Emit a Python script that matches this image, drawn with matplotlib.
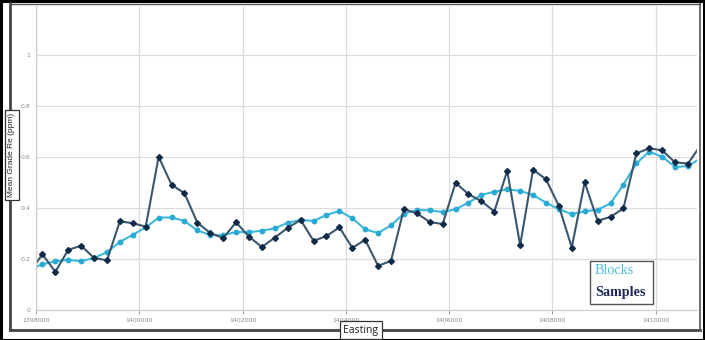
import matplotlib
matplotlib.use("Agg")
import matplotlib.pyplot as plt
from matplotlib.patches import Rectangle

# ---- data ----
start_easting = 1397875
step = 250
samples = [0.150, 0.218, 0.150, 0.236, 0.252, 0.204, 0.195, 0.348, 0.340, 0.327,
           0.601, 0.491, 0.458, 0.342, 0.302, 0.282, 0.344, 0.287, 0.247, 0.284,
           0.322, 0.353, 0.271, 0.290, 0.324, 0.244, 0.275, 0.173, 0.193, 0.396,
           0.379, 0.345, 0.337, 0.499, 0.454, 0.427, 0.386, 0.546, 0.254, 0.550,
           0.513, 0.408, 0.245, 0.501, 0.350, 0.365, 0.398, 0.614, 0.634, 0.626,
           0.579, 0.574, 0.647]
blocks = [0.161, 0.179, 0.191, 0.197, 0.191, 0.204, 0.227, 0.267, 0.295, 0.324,
          0.362, 0.363, 0.349, 0.312, 0.294, 0.293, 0.306, 0.305, 0.311, 0.320,
          0.342, 0.353, 0.349, 0.373, 0.388, 0.360, 0.316, 0.302, 0.332, 0.378,
          0.392, 0.391, 0.384, 0.395, 0.421, 0.451, 0.464, 0.473, 0.467, 0.451,
          0.421, 0.395, 0.376, 0.387, 0.393, 0.418, 0.491, 0.575, 0.621, 0.601,
          0.561, 0.564, 0.596]
eastings = [start_easting + step * i for i in range(len(samples))]
x_ticks = [1398000, 1400000, 1402000, 1404000, 1406000, 1408000, 1410000]
y_ticks = [0, 0.2, 0.4, 0.6, 0.8, 1]
y_tick_labels = ["0", "0.2", "0.4", "0.6", "0.8", "1"]

W, H = 705, 340
fig = plt.figure(figsize=(W / 100, H / 100), dpi=100)

# outer black border and inner shadowed frame
fig.patches.append(Rectangle((0.5 / W, 0.5 / H), 1 - 1.5 / W, 1 - 1.5 / H,
                             transform=fig.transFigure, fill=False,
                             edgecolor="black", linewidth=2.2))
fig.add_artist(plt.Line2D([9.5 / W, 9.5 / W], [1 - 3 / H, 1 - 330 / H],
                          transform=fig.transFigure, color="#444444", lw=2, zorder=2))
fig.add_artist(plt.Line2D([9.5 / W, 700 / W], [1 - 330 / H, 1 - 330 / H],
                          transform=fig.transFigure, color="#444444", lw=2, zorder=2))
fig.add_artist(plt.Line2D([9.5 / W, 700 / W], [1 - 3.5 / H, 1 - 3.5 / H],
                          transform=fig.transFigure, color="#555555", lw=1, zorder=2))
fig.add_artist(plt.Line2D([699.5 / W, 699.5 / W], [1 - 3.5 / H, 1 - 330 / H],
                          transform=fig.transFigure, color="#555555", lw=1.2, zorder=2))

ax = fig.add_axes([36 / W, 1 - 310 / H, (697 - 36) / W, (310 - 6) / H])
ax.set_xlim(1398000, 1410800)
ax.set_ylim(0, 1.192)

ax.grid(True, color="#dcdcdc", linewidth=0.9)
ax.set_axisbelow(True)
for s in ["top", "right"]:
    ax.spines[s].set_visible(False)
for s in ["left", "bottom"]:
    ax.spines[s].set_color("#d0d0d0")
    ax.spines[s].set_linewidth(0.9)

ax.set_xticks(x_ticks)
ax.set_xticklabels([str(v) for v in x_ticks])
ax.set_yticks(y_ticks)
ax.set_yticklabels(y_tick_labels)
ax.tick_params(axis="both", labelsize=4.5, colors="#888888", length=3,
               width=0.6, pad=3)
ax.tick_params(axis="y", length=0, pad=4)

ax.plot(eastings, blocks, color="#3db8dc", lw=1.5, marker="o", ms=3.2,
        markerfacecolor="#29a9d3", markeredgecolor="#29a9d3", clip_on=True)
ax.plot(eastings, samples, color="#3c566e", lw=1.5, marker="D", ms=3,
        markerfacecolor="#0f2b49", markeredgecolor="#0f2b49", clip_on=True)

# axis title boxes
fig.text(12 / W, 1 - 155 / H, "Mean Grade Re (ppm)", rotation=90,
         ha="center", va="center", fontsize=6.0, family="Liberation Sans",
         color="#222222", zorder=10,
         bbox=dict(boxstyle="square,pad=0.4", facecolor="white",
                   edgecolor="#333333", linewidth=0.9))
fig.text(361 / W, 1 - 330 / H, "Easting", ha="center", va="center",
         fontsize=7.5, family="Open Sans", color="#222222", zorder=10,
         bbox=dict(boxstyle="square,pad=0.3", facecolor="white",
                   edgecolor="#333333", linewidth=0.9))

# legend box
fig.patches.append(Rectangle((590 / W, 1 - 304 / H), 63 / W, 43 / H,
                             transform=fig.transFigure, facecolor="white",
                             edgecolor="#555555", linewidth=1.0, zorder=5))
fig.text(595 / W, 1 - 270 / H, "Blocks", fontsize=10.2, family="Liberation Serif",
         color="#4cc0de", va="center", ha="left", zorder=6)
fig.text(595 / W, 1 - 292.5 / H, "Samples", fontsize=10.2, family="Liberation Serif",
         color="#1e2858", va="center", ha="left", fontweight="bold", zorder=6)

fig.savefig("out.png", dpi=100)
